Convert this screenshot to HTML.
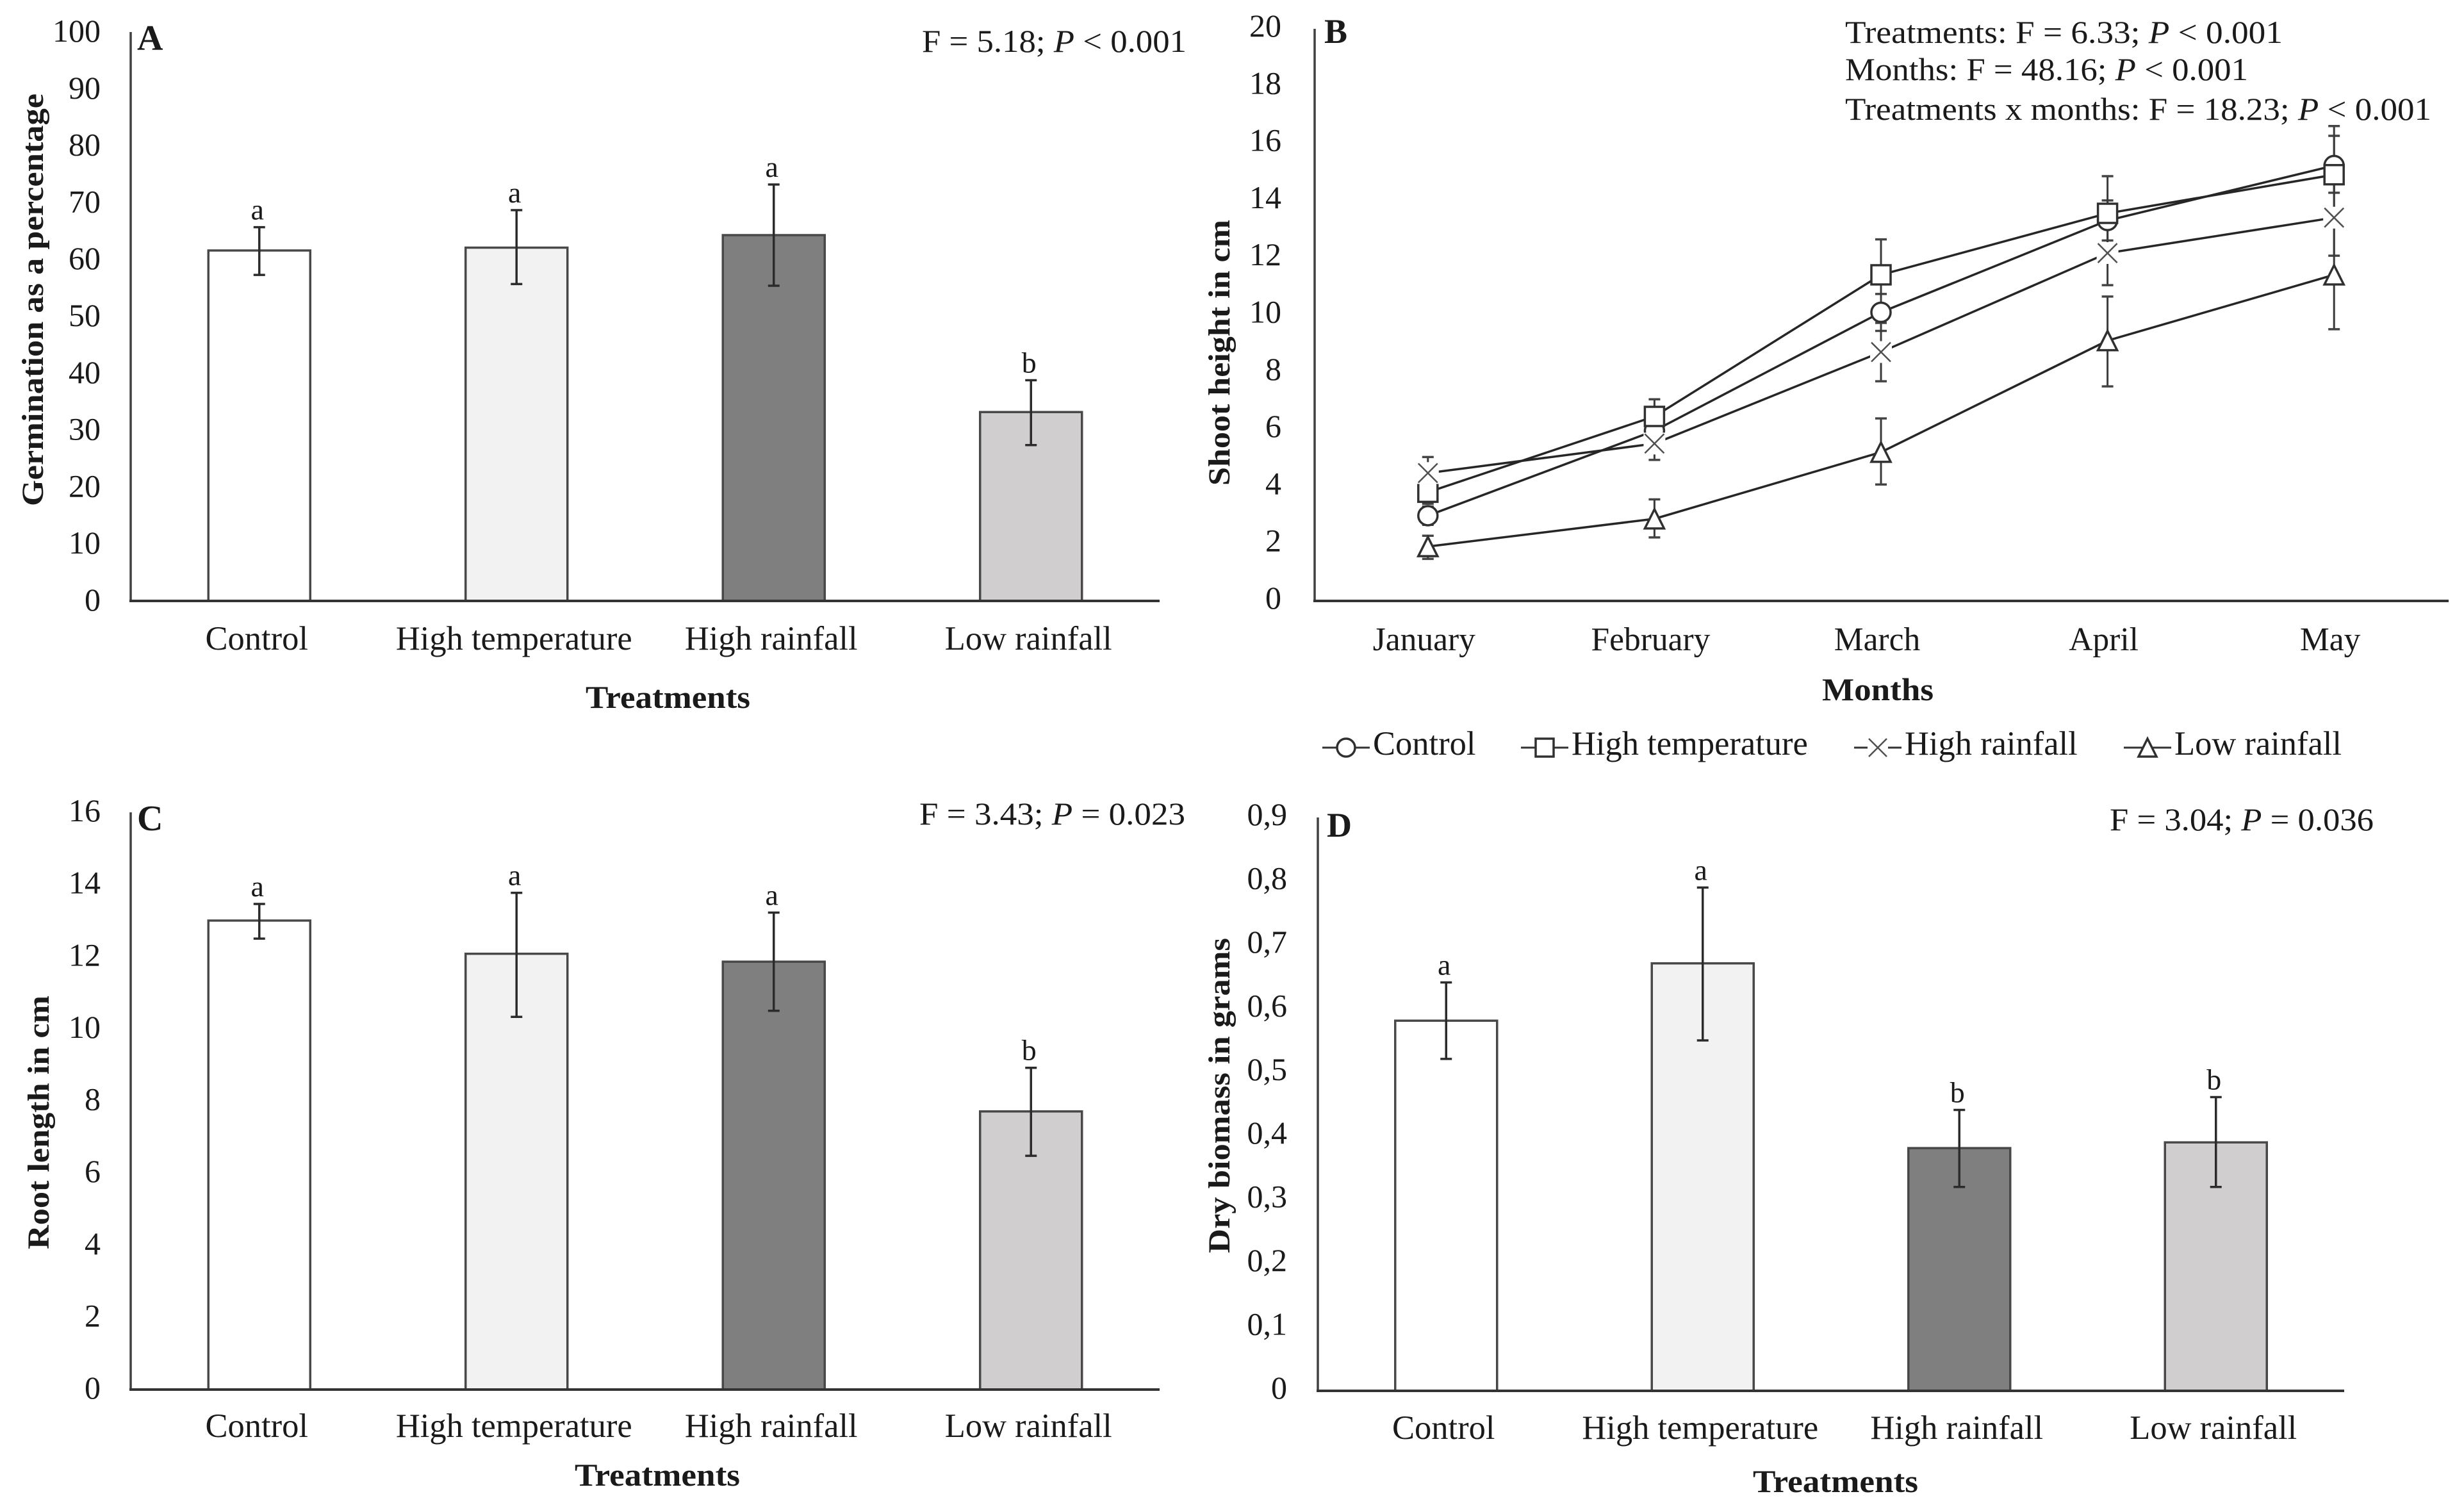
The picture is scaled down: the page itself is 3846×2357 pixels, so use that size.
<!DOCTYPE html>
<html lang="en">
<head>
<meta charset="utf-8">
<title>Germination, shoot height, root length and dry biomass by treatment</title>
<style>
html,body{margin:0;padding:0;background:#fff;}
svg{display:block;}
text{font-family:"Liberation Serif",serif;fill:#1a1a1a;}
.bold{font-weight:bold;}
</style>
</head>
<body>
<svg id="figure" xmlns="http://www.w3.org/2000/svg" width="3846" height="2357" viewBox="0 0 3846 2357">
  <rect width="3846" height="2357" fill="#fff"/>

  <g id="panel-a"></g>
  <g id="panel-b"></g>
  <g id="panel-c"></g>
  <g id="panel-d"></g>

  <!-- Panel letters -->
  <text x="214" y="78" font-size="56" class="bold">A</text>
  <text x="2067" y="67" font-size="54" class="bold">B</text>
  <text x="214" y="1296" font-size="56" class="bold">C</text>
  <text x="2071" y="1306" font-size="54" class="bold">D</text>

  <!-- Statistics annotations -->
  <text x="1439" y="81" font-size="50" textLength="413" lengthAdjust="spacingAndGlyphs">F = 5.18; <tspan font-style="italic">P</tspan> &lt; 0.001</text>
  <text x="2880" y="67" font-size="50" textLength="683" lengthAdjust="spacingAndGlyphs">Treatments: F = 6.33; <tspan font-style="italic">P</tspan> &lt; 0.001</text>
  <text x="2880" y="125" font-size="50" textLength="629" lengthAdjust="spacingAndGlyphs">Months: F = 48.16; <tspan font-style="italic">P</tspan> &lt; 0.001</text>
  <text x="2880" y="187" font-size="50" textLength="915" lengthAdjust="spacingAndGlyphs">Treatments x months: F = 18.23; <tspan font-style="italic">P</tspan> &lt; 0.001</text>
  <text x="1435" y="1287" font-size="50" textLength="415" lengthAdjust="spacingAndGlyphs">F = 3.43; <tspan font-style="italic">P</tspan> = 0.023</text>
  <text x="3293" y="1296" font-size="50" textLength="412" lengthAdjust="spacingAndGlyphs">F = 3.04; <tspan font-style="italic">P</tspan> = 0.036</text>

  <!-- Axis titles -->
  <text transform="translate(67,790) rotate(-90)" font-size="48" class="bold" textLength="644" lengthAdjust="spacingAndGlyphs">Germination as a percentage</text>
  <text transform="translate(1919,758) rotate(-90)" font-size="48" class="bold" textLength="415" lengthAdjust="spacingAndGlyphs">Shoot height in cm</text>
  <text transform="translate(76,1950) rotate(-90)" font-size="48" class="bold" textLength="396" lengthAdjust="spacingAndGlyphs">Root length in cm</text>
  <text transform="translate(1919,1956) rotate(-90)" font-size="48" class="bold" textLength="492" lengthAdjust="spacingAndGlyphs">Dry biomass in grams</text>

  <text x="914" y="1105" font-size="50" class="bold" textLength="257" lengthAdjust="spacingAndGlyphs">Treatments</text>
  <text x="2844" y="1093" font-size="50" class="bold" textLength="174" lengthAdjust="spacingAndGlyphs">Months</text>
  <text x="897" y="2319" font-size="50" class="bold" textLength="258" lengthAdjust="spacingAndGlyphs">Treatments</text>
  <text x="2736" y="2329" font-size="50" class="bold" textLength="258" lengthAdjust="spacingAndGlyphs">Treatments</text>
</svg>

<script>
/* ---------- shared categories ---------- */
const treatments = ['Control', 'High temperature', 'High rainfall', 'Low rainfall'];
const months = ['January', 'February', 'March', 'April', 'May'];

/* ---------- panel A: germination ---------- */
const germinationValues = [61.6, 62.1, 64.3, 33.2];
const germinationUpper = [65.7, 68.7, 73.2, 38.8];
const germinationLower = [57.3, 55.7, 55.4, 27.4];
const germinationLetters = ['a', 'a', 'a', 'b'];
const germinationTicks = [0, 10, 20, 30, 40, 50, 60, 70, 80, 90, 100];
const germinationTickLabels = ['0', '10', '20', '30', '40', '50', '60', '70', '80', '90', '100'];

/* ---------- panel C: root length ---------- */
const rootValues = [13.0, 12.08, 11.86, 7.71];
const rootUpper = [13.46, 13.77, 13.22, 8.92];
const rootLower = [12.5, 10.33, 10.5, 6.48];
const rootLetters = ['a', 'a', 'a', 'b'];
const rootTicks = [0, 2, 4, 6, 8, 10, 12, 14, 16];
const rootTickLabels = ['0', '2', '4', '6', '8', '10', '12', '14', '16'];

/* ---------- panel D: dry biomass ---------- */
const biomassValues = [0.581, 0.671, 0.381, 0.39];
const biomassUpper = [0.641, 0.79, 0.441, 0.461];
const biomassLower = [0.521, 0.55, 0.32, 0.32];
const biomassLetters = ['a', 'a', 'b', 'b'];
const biomassTicks = [0, 0.1, 0.2, 0.3, 0.4, 0.5, 0.6, 0.7, 0.8, 0.9];
const biomassTickLabels = ['0', '0,1', '0,2', '0,3', '0,4', '0,5', '0,6', '0,7', '0,8', '0,9'];

/* ---------- panel B: shoot height ---------- */
const shootTicks = [0, 2, 4, 6, 8, 10, 12, 14, 16, 18, 20];
const shootTickLabels = ['0', '2', '4', '6', '8', '10', '12', '14', '16', '18', '20'];
const shootControl = [2.98, 5.95, 10.09, 13.3, 15.22];
const shootControlUpper = [3.3, 6.3, 10.73, 14.0, 16.26];
const shootControlLower = [2.66, 5.6, 9.44, 12.6, 14.27];
const shootHighTemp = [3.8, 6.45, 11.4, 13.55, 14.9];
const shootHighTempUpper = [4.2, 7.05, 12.64, 14.85, 16.6];
const shootHighTempLower = [3.4, 5.85, 10.16, 12.25, 13.2];
const shootHighRain = [4.47, 5.5, 8.7, 12.16, 13.4];
const shootHighRainUpper = [5.03, 6.07, 9.72, 13.28, 14.73];
const shootHighRainLower = [3.91, 4.93, 7.68, 11.04, 12.07];
const shootLowRain = [1.9, 2.87, 5.2, 9.1, 11.4];
const shootLowRainUpper = [2.28, 3.55, 6.38, 10.64, 13.3];
const shootLowRainLower = [1.47, 2.22, 4.07, 7.5, 9.5];

const NS = 'http://www.w3.org/2000/svg';
const INK = '#2b2b2b';
const barFills = ['#ffffff', '#f2f2f2', '#7f7f7f', '#d0cece'];

function make(tag, attrs, parent) {
  const node = document.createElementNS(NS, tag);
  Object.keys(attrs).forEach(function (k) { node.setAttribute(k, attrs[k]); });
  parent.appendChild(node);
  return node;
}
function slug(s) { return s.toLowerCase().replace(/[^a-z0-9]+/g, '-'); }

function drawAxes(parent, p, ticks, labels) {
  const yOf = function (v) { return p.y0 - (v / p.max) * (p.y0 - p.yTop); };
  const yAxis = make('line', { x1: p.x0, x2: p.x0, y1: p.yTop, y2: p.y0, stroke: '#404040', 'stroke-width': 3.5 }, parent);
  
  
  const xAxis = make('line', { x1: p.x0 - 2, x2: p.xEnd, y1: p.y0, y2: p.y0, stroke: '#333', 'stroke-width': 4 }, parent);
  
  
  ticks.forEach(function (v, i) {
    const t = make('text', { x: p.tickRight, y: yOf(v) + p.tickDy + 17, 'font-size': 50, 'text-anchor': 'end' }, parent);
    t.textContent = labels[i];
    
    
  });
  return yOf;
}

function drawBarPanel(p, values, upper, lower, letters, ticks, tickLabels) {
  const parent = document.getElementById(p.id);
  const yOf = function (v) { return p.y0 - (v / p.max) * (p.y0 - p.yTop); };
  const xOf = function (i) { return p.x0 + p.step * (i + 0.5); };

  values.forEach(function (v, i) {
    const bar = make('rect', {
      x: xOf(i) - 79.5, y: yOf(v), width: 159, height: p.y0 - yOf(v),
      fill: barFills[i], stroke: '#484848', 'stroke-width': 3.5
    }, parent);
    
    
  });

  drawAxes(parent, p, ticks, tickLabels);

  values.forEach(function (v, i) {
    const cx = xOf(i);
    const stem = make('line', { x1: cx, x2: cx, y1: yOf(upper[i]), y2: yOf(lower[i]), stroke: INK, 'stroke-width': 3.5 }, parent);
    
    
    [upper[i], lower[i]].forEach(function (e) {
      const cap = make('line', { x1: cx - 9, x2: cx + 9, y1: yOf(e), y2: yOf(e), stroke: INK, 'stroke-width': 3.5 }, parent);
      
      
    });
    const letter = make('text', { x: cx - 3, y: yOf(upper[i]) - 12, 'font-size': 46, 'text-anchor': 'middle' }, parent);
    letter.textContent = letters[i];
    
    
    const cat = make('text', { x: cx - 4, y: p.catY, 'font-size': 52.5, 'text-anchor': 'middle' }, parent);
    cat.textContent = treatments[i];
    
    
  });
}

function drawMarker(parent, kind, cx, cy, s) {
  let m;
  if (kind === 'circle') {
    m = make('circle', { cx: cx, cy: cy, r: s, fill: '#fff', stroke: '#303030', 'stroke-width': 3.5 }, parent);
  } else if (kind === 'square') {
    m = make('rect', { x: cx - s, y: cy - s, width: 2 * s, height: 2 * s, fill: '#fff', stroke: '#303030', 'stroke-width': 3.5 }, parent);
  } else if (kind === 'triangle') {
    m = make('polygon', { points: (cx - s) + ',' + (cy + s) + ' ' + (cx + s) + ',' + (cy + s) + ' ' + cx + ',' + (cy - s), fill: '#fff', stroke: '#303030', 'stroke-width': 3.5 }, parent);
  } else {
    m = make('path', { d: 'M' + (cx - s - 2) + ' ' + (cy - s - 2) + 'h' + (2 * s + 4) + 'v' + (2 * s + 4) + 'h' + (-2 * s - 4) + 'z', fill: '#fff', stroke: 'none' }, parent);
    const cross = make('path', { d: 'M' + (cx - s) + ' ' + (cy - s) + 'L' + (cx + s) + ' ' + (cy + s) + 'M' + (cx + s) + ' ' + (cy - s) + 'L' + (cx - s) + ' ' + (cy + s), fill: 'none', stroke: '#505050', 'stroke-width': 2.5 }, parent);
    
    
  }
  
  
}

function drawLinePanel() {
  const p = { x0: 2052, xEnd: 3822, step: 353.6, y0: 938, yTop: 45, max: 20, tickRight: 2000, tickDy: -5, catY: 1015 };
  const parent = document.getElementById('panel-b');
  const xOf = function (i) { return p.x0 + p.step * (i + 0.5); };
  const yOf = drawAxes(parent, p, shootTicks, shootTickLabels);

  const series = [
    { name: 'Control', kind: 'circle', v: shootControl, u: shootControlUpper, l: shootControlLower },
    { name: 'High temperature', kind: 'square', v: shootHighTemp, u: shootHighTempUpper, l: shootHighTempLower },
    { name: 'High rainfall', kind: 'cross', v: shootHighRain, u: shootHighRainUpper, l: shootHighRainLower },
    { name: 'Low rainfall', kind: 'triangle', v: shootLowRain, u: shootLowRainUpper, l: shootLowRainLower }
  ];

  series.forEach(function (s) {
    s.v.forEach(function (v, i) {
      const stem = make('line', { x1: xOf(i), x2: xOf(i), y1: yOf(s.u[i]), y2: yOf(s.l[i]), stroke: '#3a3a3a', 'stroke-width': 3 }, parent);
      
      
      [s.u[i], s.l[i]].forEach(function (e) {
        const cap = make('line', { x1: xOf(i) - 9, x2: xOf(i) + 9, y1: yOf(e), y2: yOf(e), stroke: '#444', 'stroke-width': 3.5 }, parent);
        
        
      });
    });
  });
  series.forEach(function (s) {
    const pts = s.v.map(function (v, i) { return xOf(i) + ',' + yOf(v); }).join(' ');
    const line = make('polyline', { points: pts, fill: 'none', stroke: '#262626', 'stroke-width': 3.5 }, parent);
    
    
  });
  series.forEach(function (s) {
    s.v.forEach(function (v, i) {
      drawMarker(parent, s.kind, xOf(i), yOf(v), 15);
    });
  });

  months.forEach(function (m, i) {
    const t = make('text', { x: xOf(i) - 6, y: p.catY, 'font-size': 51.5, 'text-anchor': 'middle' }, parent);
    t.textContent = m;
    
    
  });

  /* legend */
  const legendMarkerCenters = [2101, 2411, 2931, 3352];
  series.forEach(function (s, i) {
    const cx = legendMarkerCenters[i];
    const group = make('g', {}, parent);
    
    
    const key = make('line', { x1: cx - 37, x2: cx + 37, y1: 1167, y2: 1167, stroke: '#333', 'stroke-width': 3 }, group);
    
    
    drawMarker(group, s.kind, cx, 1167, 14);
    const label = make('text', { x: cx + 42, y: 1178, 'font-size': 52.5 }, group);
    label.textContent = s.name;
    
    
  });
}

drawBarPanel(
  { id: 'panel-a', x0: 204, xEnd: 1810, step: 401.5, y0: 938, yTop: 50, max: 100, tickRight: 157, tickDy: -2, catY: 1014 },
  germinationValues, germinationUpper, germinationLower, germinationLetters, germinationTicks, germinationTickLabels
);
drawLinePanel();
drawBarPanel(
  { id: 'panel-c', x0: 204, xEnd: 1810, step: 401.5, y0: 2169, yTop: 1268, max: 16, tickRight: 157, tickDy: -3, catY: 2243 },
  rootValues, rootUpper, rootLower, rootLetters, rootTicks, rootTickLabels
);
drawBarPanel(
  { id: 'panel-d', x0: 2057, xEnd: 3659, step: 400.5, y0: 2171, yTop: 1276, max: 0.9, tickRight: 2009, tickDy: -5, catY: 2246 },
  biomassValues, biomassUpper, biomassLower, biomassLetters, biomassTicks, biomassTickLabels
);
</script>
</body>
</html>
